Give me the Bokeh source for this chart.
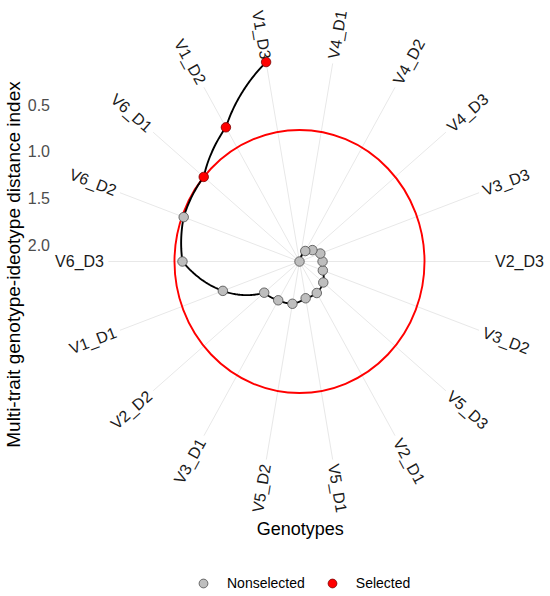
import numpy as np
from bokeh.plotting import figure
from bokeh.models import Range1d, Legend, LegendItem, ColumnDataSource
from bokeh.core.properties import value
from bokeh.embed import file_html
from bokeh.resources import INLINE

# ---------------- data ----------------
genotypes = ["V1_D3", "V1_D2", "V6_D1", "V6_D2", "V6_D3", "V1_D1", "V2_D2", "V3_D1", "V5_D2",
             "V5_D1", "V2_D1", "V5_D3", "V3_D2", "V2_D3", "V3_D3", "V4_D3", "V4_D2", "V4_D1"]
mgidi = [0.01, 0.52, 0.77, 0.79, 0.86, 1.26, 1.66, 1.70, 1.72,
         1.78, 1.79, 1.83, 1.90, 1.92, 1.93, 1.99, 2.05, 2.18]
n_selected = 3
cutpoint = 0.77
y_ticks = [0.5, 1.0, 1.5, 2.0]
y_tick_labels = ["0.5", "1.0", "1.5", "2.0"]
legend_labels = ["Nonselected", "Selected"]
x_title = "Genotypes"
y_title = "Multi-trait genotype-ideotype distance index"

# ---------------- layout (pixels) ----------------
W, H = 550, 596
CX, CY = 299.0, 261.0          # centre of the polar panel on the canvas
SY = 93.33                      # px per unit, vertical
SX = 0.95 * SY                  # px per unit, horizontal
R_SPOKE = 2.155                 # spoke length (radial units)
R_LAB = 2.205                   # label radius (radial units)
FONT_NAME = "Liberation Sans"
FONT = value(FONT_NAME)

p = figure(width=W, height=H,
           x_range=Range1d(-CX / SX, (W - CX) / SX),
           y_range=Range1d(-(H - CY) / SY, CY / SY),
           output_backend="svg", toolbar_location=None,
           x_axis_location=None, y_axis_location=None,
           min_border=0, outline_line_color=None,
           background_fill_color="white", border_fill_color="white")
p.grid.visible = False

n = len(genotypes)
vals = np.array(mgidi, dtype=float)
rmax = vals.max()
rr = rmax - vals                                   # reversed radial scale
theta = -(np.arange(n) + 0.5) * 2 * np.pi / n      # compass angle, counter-clockwise order
px = rr * np.sin(theta)
py = rr * np.cos(theta)

# spokes
p.segment(x0=np.zeros(n), y0=np.zeros(n),
          x1=R_SPOKE * np.sin(theta), y1=R_SPOKE * np.cos(theta),
          line_color="#E8E8E8", line_width=1)

# cut point circle
rc = rmax - cutpoint
p.ellipse(x=[0], y=[0], width=[2 * rc], height=[2 * rc],
          fill_color=None, line_color="#FF0000", line_width=1.9)

# path, interpolated in polar space (as a polar coordinate system would)
lx, ly = [], []
for i in range(n - 1):
    t = np.linspace(0, 1, 40, endpoint=(i == n - 2))
    th = theta[i] + (theta[i + 1] - theta[i]) * t
    r_ = rr[i] + (rr[i + 1] - rr[i]) * t
    lx.extend(r_ * np.sin(th))
    ly.extend(r_ * np.cos(th))
p.line(lx, ly, line_color="black", line_width=1.9)

# points
sel = np.arange(n) < n_selected
src_ns = ColumnDataSource(dict(x=px[~sel], y=py[~sel]))
src_s = ColumnDataSource(dict(x=px[sel], y=py[sel]))
r_ns = p.scatter("x", "y", source=src_ns, size=9.5, fill_color="#BEBEBE",
                 line_color="#4D4D4D", line_width=0.8)
r_s = p.scatter("x", "y", source=src_s, size=9.5, fill_color="#FF0000",
                line_color="#7A0000", line_width=0.8)

# genotype labels, rotated radially
comp = np.mod(np.degrees(theta), 360)
left = comp > 180
ang_out = np.arctan2(np.cos(theta) * SY, np.sin(theta) * SX)
ang_in = np.arctan2(-np.cos(theta) * SY, -np.sin(theta) * SX)
labs = np.array(genotypes)
for mask, ang, align in ((~left, ang_out, "left"), (left, ang_in, "right")):
    p.text(x=R_LAB * np.sin(theta[mask]), y=R_LAB * np.cos(theta[mask]),
           text=list(labs[mask]), angle=ang[mask],
           text_align=align, text_baseline="middle",
           text_font=FONT, text_font_size="16px", text_color="#1A1A1A")

# radial axis tick labels
tick_x = (49.5 - CX) / SX
p.text(x=[tick_x] * len(y_ticks), y=[rmax - t for t in y_ticks], text=y_tick_labels,
       text_align="right", text_baseline="middle",
       text_font=FONT, text_font_size="16px", text_color="#4D4D4D")

# axis titles
p.text(x=[(13 - CX) / SX], y=[(CY - 264) / SY], text=[y_title], angle=np.pi / 2,
       text_align="center", text_baseline="middle",
       text_font=FONT, text_font_size="19px", text_color="black")
p.text(x=[(299.7 - CX) / SX], y=[(CY - 528) / SY], text=[x_title],
       text_align="center", text_baseline="middle",
       text_font=FONT, text_font_size="18px", text_color="black")

legend = Legend(items=[LegendItem(label=legend_labels[0], renderers=[r_ns]),
                       LegendItem(label=legend_labels[1], renderers=[r_s])],
                orientation="horizontal", location=(192, 2),
                padding=0, margin=0, spacing=16, label_standoff=13,
                glyph_width=22, glyph_height=22, label_height=22,
                border_line_color=None, background_fill_alpha=0,
                label_text_font=FONT_NAME, label_text_font_size="14px",
                label_text_color="black")
p.add_layout(legend)

open("out.html", "w").write(file_html(p, INLINE))
